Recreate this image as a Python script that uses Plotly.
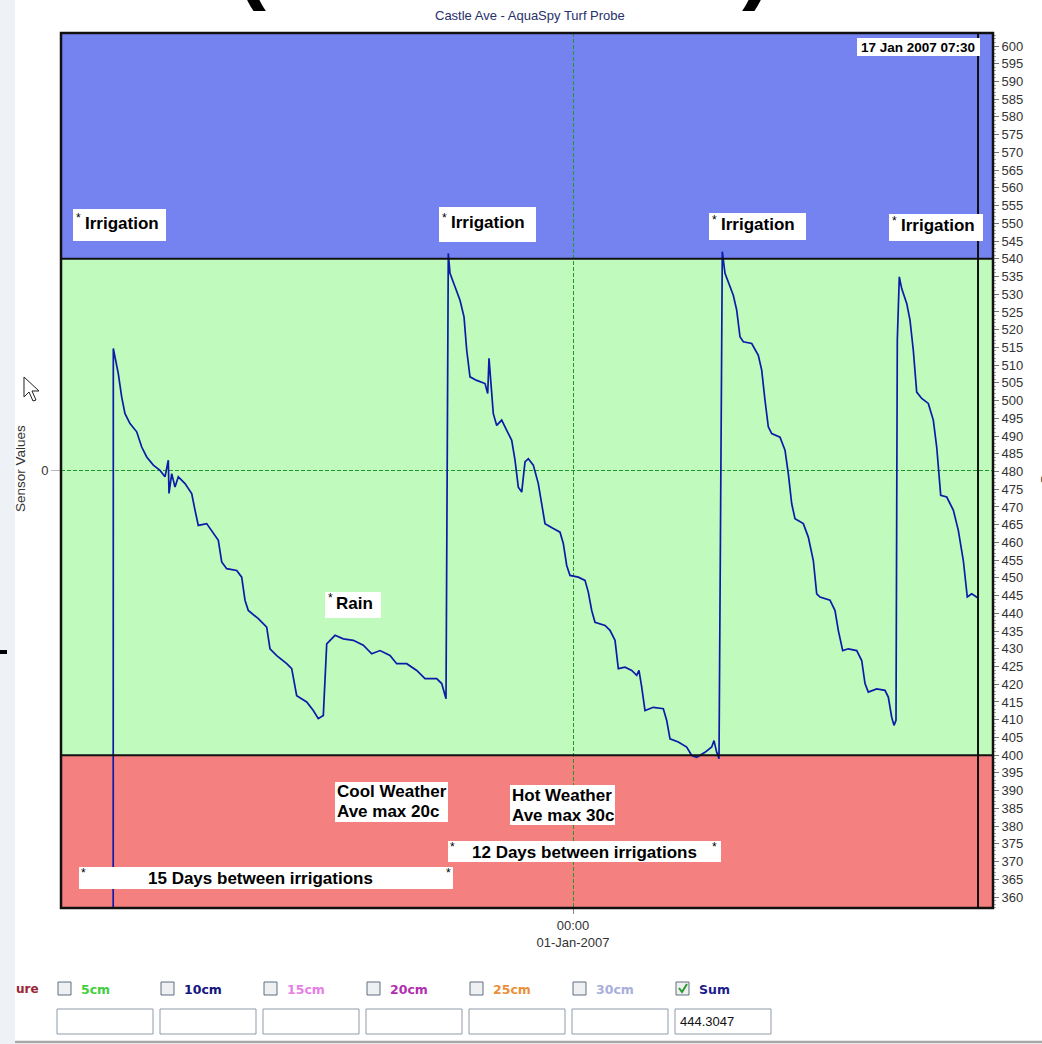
import pandas as pd
import plotly.graph_objects as go

# ---------------------------------------------------------------------------
# Soil-moisture "Sum" readings, Castle Ave AquaSpy turf probe.
# Time is given as days relative to 01-Jan-2007 00:00.
# ---------------------------------------------------------------------------
day_offsets = [
    -18.530, -18.515, -18.447, -18.314, -18.177, -18.044, -17.843, -17.573,
    -17.371, -17.170, -16.904, -16.634, -16.433, -16.300, -16.272, -16.163,
    -16.030, -15.897, -15.627, -15.358, -15.225, -15.092, -14.754, -14.488,
    -14.286, -14.149, -13.948, -13.545, -13.344, -13.211, -13.078, -12.675,
    -12.337, -12.204, -11.934, -11.531, -11.330, -11.129, -10.726, -10.460,
    -10.259, -10.057, -9.920, -9.586, -9.252, -8.849, -8.446, -8.108,
    -7.773, -7.371, -7.101, -6.698, -6.295, -5.961, -5.490, -5.288, -5.115,
    -5.023, -4.954, -4.753, -4.551, -4.390, -4.281, -4.149, -3.879, -3.544,
    -3.436, -3.383, -3.303, -3.210, -3.073, -2.872, -2.670, -2.469, -2.336,
    -2.203, -2.066, -1.933, -1.800, -1.599, -1.398, -1.261, -1.128, -0.793,
    -0.524, -0.391, -0.254, -0.121, 0.213, 0.483, 0.616, 0.753, 0.886,
    1.289, 1.490, 1.692, 1.825, 2.094, 2.364, 2.566, 2.658, 2.767, 2.900,
    3.234, 3.637, 3.774, 3.907, 4.241, 4.579, 4.781, 4.982, 5.317, 5.586,
    5.679, 5.788, 5.880,
    6.013, 6.122, 6.255, 6.456, 6.593, 6.726, 6.859, 7.198, 7.463, 7.600,
    7.733, 7.866, 8.003, 8.337, 8.539, 8.672, 8.809, 8.941, 9.276, 9.477,
    9.679, 9.816, 9.948, 10.351, 10.553, 10.685, 10.863, 11.088, 11.427,
    11.628, 11.761, 11.894, 12.232, 12.566, 12.699, 12.836, 12.929, 13.009,
    13.062, 13.142, 13.239, 13.440, 13.573, 13.706, 13.843, 14.045, 14.310,
    14.512, 14.649, 14.810, 15.052, 15.318, 15.519, 15.720, 15.881, 16.058,
    16.3125,
]

sum_values = [
    0.0, 514.7, 512.3, 507.6, 501.0, 496.3, 493.5, 491.2,
    486.9, 484.1, 481.8, 480.3, 478.5, 483.2, 473.8, 479.4,
    475.6, 478.5, 476.6, 473.8, 469.1, 464.8, 465.3, 462.5,
    460.6, 454.5, 452.6, 452.1, 450.2, 443.7, 440.8, 438.5,
    436.1, 430.0, 428.1, 425.8, 424.4, 416.8, 415.0, 412.6,
    410.3, 411.2, 431.4, 433.8, 432.8, 432.4, 431.0, 428.6,
    429.5, 428.1, 425.8, 425.8, 423.9, 421.6, 421.6, 420.2, 415.9,
    541.5, 535.9, 532.1, 528.3, 523.6, 514.2, 506.7, 505.7, 504.8,
    502.0, 511.9, 504.8, 496.3, 493.0, 494.5, 491.6, 488.8, 483.2,
    475.6, 474.2, 482.7, 483.6, 481.8, 476.6, 470.9, 465.3, 463.9,
    462.9, 459.7, 453.5, 450.7, 450.2, 449.3, 446.0, 440.8, 437.5,
    436.6, 435.2, 432.4, 424.4, 424.8, 423.9, 422.5, 423.9, 419.2, 412.6,
    413.5, 413.1, 409.8, 404.6, 403.7, 402.3, 399.9, 399.4, 400.8, 402.3,
    404.1, 400.8, 399.0,
    542.0, 535.9, 533.5, 529.7, 525.5, 518.0, 516.6, 516.1, 512.8, 508.6,
    500.1, 492.6, 490.7, 489.7, 486.0, 479.4, 470.9, 466.7, 465.3, 461.5,
    454.9, 445.5, 444.6, 443.7, 440.8, 435.2, 429.5, 430.0, 429.5,
    426.7, 420.2, 417.8, 418.7, 418.3, 416.4, 410.7, 408.4, 409.8,
    517.0, 534.9, 531.6, 527.4, 522.7, 514.2, 502.4, 500.6, 499.2,
    494.5, 486.9, 473.3, 472.8, 469.1, 463.4, 454.9, 444.6, 445.5,
    444.3047,
]

# Moisture bands on the Sum axis
band_wet = 540      # above: too wet (blue)
band_dry = 400      # below: too dry (red)
sum_axis_range = [356.9, 603.67]
sensor_axis_range = [-1, 1]
view_days = [-20.622, 16.916]
cursor_day = 16.3125
cursor_label = "17 Jan 2007 07:30"
current_value = "444.3047"

depth_labels = ["5cm", "10cm", "15cm", "20cm", "25cm", "30cm", "Sum"]
depth_colors = ["#3fcf3f", "#15157f", "#e67ee6", "#b02fb0", "#e8913a", "#a9aedb", "#1c1c8c"]
depth_checked = [False, False, False, False, False, False, True]

t0 = pd.Timestamp("2007-01-01 00:00")
times = [t0 + pd.Timedelta(days=d) for d in day_offsets]

# ---------------------------------------------------------------------------
# Page geometry (pixels) and helpers for placing decorations on the page
# ---------------------------------------------------------------------------
W, H = 1042, 1044
L, R, T, B = 61, 993, 33, 908


def px(x):
    return (x - L) / (R - L)


def py(y):
    return (B - y) / (B - T)


shapes = []
annotations = []


def rect(x0, y0, x1, y1, fill="white", line_color=None, line_width=0, layer="above"):
    shapes.append(dict(
        type="rect", xref="paper", yref="paper",
        x0=px(x0), x1=px(x1), y0=py(y1), y1=py(y0),
        fillcolor=fill, layer=layer,
        line=dict(color=line_color or "rgba(0,0,0,0)", width=line_width),
    ))


def text(x, y, s, size=17, color="black", bold=True, xanchor="left",
         yanchor="middle", family="Liberation Sans", angle=0):
    annotations.append(dict(
        xref="paper", yref="paper", x=px(x), y=py(y),
        text=f"<b>{s}</b>" if bold else s, showarrow=False,
        xanchor=xanchor, yanchor=yanchor, textangle=angle,
        borderpad=0, font=dict(size=size, color=color, family=family),
    ))


def path(points, fill, line_color, width=1):
    d = "M " + " L ".join(f"{px(x):.5f},{py(y):.5f}" for x, y in points) + " Z"
    shapes.append(dict(type="path", xref="paper", yref="paper", path=d,
                       fillcolor=fill, line=dict(color=line_color, width=width),
                       layer="above"))


# Light page strip on the left edge and stray marks
rect(0, 0, 15, H, fill="#eef2f7", layer="below")
rect(0, 650, 7, 654, fill="black")

# Moisture bands
shapes += [
    dict(type="rect", xref="paper", yref="y2", x0=0, x1=1, y0=band_wet,
         y1=sum_axis_range[1], fillcolor="#7583f0", line=dict(width=0), layer="below"),
    dict(type="rect", xref="paper", yref="y2", x0=0, x1=1, y0=band_dry,
         y1=band_wet, fillcolor="#c0fabd", line=dict(width=0), layer="below"),
    dict(type="rect", xref="paper", yref="y2", x0=0, x1=1, y0=sum_axis_range[0],
         y1=band_dry, fillcolor="#f58080", line=dict(width=0), layer="below"),
]
for level in (band_wet, band_dry):
    shapes.append(dict(type="line", xref="paper", yref="y2", x0=0, x1=1,
                       y0=level, y1=level, line=dict(color="#111", width=2),
                       layer="above"))

# Cursor line at the latest reading
shapes.append(dict(type="line", xref="x", yref="paper",
                   x0=t0 + pd.Timedelta(days=cursor_day),
                   x1=t0 + pd.Timedelta(days=cursor_day),
                   y0=0, y1=1, line=dict(color="#111", width=2), layer="above"))

# Plot frame
shapes.append(dict(type="rect", xref="paper", yref="paper", x0=0, x1=1, y0=0, y1=1,
                   line=dict(color="#111", width=2.5), fillcolor="rgba(0,0,0,0)",
                   layer="above"))

# Note boxes inside the plot
irrigation_boxes = [(73, 209, 166, 241), (439, 207, 536, 242),
                    (709, 213, 806, 240), (889, 214, 983, 241)]
for x0, y0, x1, y1 in irrigation_boxes:
    rect(x0, y0, x1, y1)
    cy = (y0 + y1) / 2 - 2
    text(x0 + 2, cy - 5, "*", size=12, bold=False)
    text(x0 + 11, cy, "Irrigation")

rect(325, 592, 381, 618)
text(327, 598, "*", size=12, bold=False)
text(335, 603, "Rain")

rect(335, 782, 448, 822)
text(336, 791, "Cool Weather")
text(336, 811, "Ave max 20c")

rect(510, 785, 615, 825)
text(511, 795, "Hot Weather")
text(511, 815, "Ave max 30c")

rect(448, 841, 721, 862)
text(449, 847, "*", size=12, bold=False)
text(471, 852, "12 Days between irrigations")
text(711, 847, "*", size=12, bold=False)

rect(79, 867, 453, 889)
text(80, 873, "*", size=12, bold=False)
text(147, 878, "15 Days between irrigations")
text(445, 873, "*", size=12, bold=False)

rect(857, 38, 980, 56)
text(918, 47, cursor_label, size=13.5, xanchor="center")

# Titles
text(530, 15, "Castle Ave - AquaSpy Turf Probe", size=13, color="#27306a",
     bold=False, xanchor="center")
text(20, 469, "Sensor Values", size=13.5, color="#333", bold=False,
     xanchor="center", angle=-90)
text(1045, 470, "Sum", size=13.5, color="#333", bold=False,
     xanchor="center", angle=-90)

# Large heading parentheses partly above the page
text(251, 12, "(", size=90, yanchor="bottom", xanchor="center")
text(757, 12, ")", size=90, yanchor="bottom", xanchor="center")

# Mouse pointer
path([(24, 377), (24, 397), (29, 392), (33, 401), (36, 400), (32, 391), (39, 391)],
     fill="white", line_color="#222", width=1)

# Depth selector controls under the chart
text(40, 989, "ure", size=12, color="#9b2335", family="DejaVu Sans", xanchor="right")
for i, (lab, col, chk) in enumerate(zip(depth_labels, depth_colors, depth_checked)):
    bx = 58 + 103 * i
    rect(bx, 982, bx + 13, 995, fill="#eef0f2", line_color="#5f6f80", line_width=1)
    if chk:
        shapes.append(dict(
            type="path", xref="paper", yref="paper",
            path=(f"M {px(bx + 3):.5f},{py(988):.5f} L {px(bx + 6):.5f},{py(992):.5f} "
                  f"L {px(bx + 11):.5f},{py(984):.5f}"),
            line=dict(color="#2a9a2a", width=2), layer="above"))
    text(bx + 22, 989, lab, size=12.5, color=col, family="DejaVu Sans")
    rect(bx - 1, 1009, bx + 95, 1034, fill="white", line_color="#8f9ba8", line_width=1)
text(679, 1021, current_value, size=13, color="#111", bold=False)

# Bottom rule
shapes.append(dict(type="line", xref="paper", yref="paper",
                   x0=px(15), x1=px(W), y0=py(1042), y1=py(1042),
                   line=dict(color="#a8a8a8", width=2.5), layer="above"))

# ---------------------------------------------------------------------------
fig = go.Figure()
# Sensor Values axis carries no visible series, only its zero reference
fig.add_trace(go.Scatter(
    x=[t0], y=[0], yaxis="y", mode="markers", marker=dict(opacity=0),
    hoverinfo="skip", showlegend=False,
))
fig.add_trace(go.Scatter(
    x=times, y=sum_values, yaxis="y2", mode="lines",
    line=dict(color="#0c1ca8", width=1.7), hoverinfo="skip", showlegend=False,
))

grid_green = "#1f9a2a"
fig.update_layout(
    width=W, height=H, autosize=False,
    margin=dict(l=L, r=W - R, t=T, b=H - B, pad=0),
    paper_bgcolor="white", plot_bgcolor="white", showlegend=False,
    font=dict(family="Liberation Sans", size=13, color="#333"),
    xaxis=dict(
        type="date",
        range=[t0 + pd.Timedelta(days=view_days[0]), t0 + pd.Timedelta(days=view_days[1])],
        tickvals=[t0], ticktext=["00:00<br>01-Jan-2007"],
        showgrid=True, gridcolor=grid_green, griddash="4px,2px", gridwidth=1,
        ticks="outside", ticklen=5, tickcolor="#888",
        zeroline=False, showline=False,
    ),
    yaxis=dict(
        range=sensor_axis_range, tickvals=[0], ticktext=["0"],
        showgrid=True, gridcolor=grid_green, griddash="4px,2px", gridwidth=1,
        ticks="outside", ticklen=9, tickcolor="#bbb",
        zeroline=False, showline=False, tickfont=dict(size=13, color="#333"),
    ),
    yaxis2=dict(
        overlaying="y", side="right", range=sum_axis_range,
        tick0=360, dtick=5, ticks="outside", ticklen=5, tickcolor="#777",
        minor=dict(dtick=1, ticks="outside", ticklen=2, tickcolor="#aaa"),
        showgrid=False, zeroline=False, showline=False,
        tickfont=dict(size=13, color="#333"),
    ),
    shapes=shapes,
    annotations=annotations,
)

fig.write_html("out.html")
